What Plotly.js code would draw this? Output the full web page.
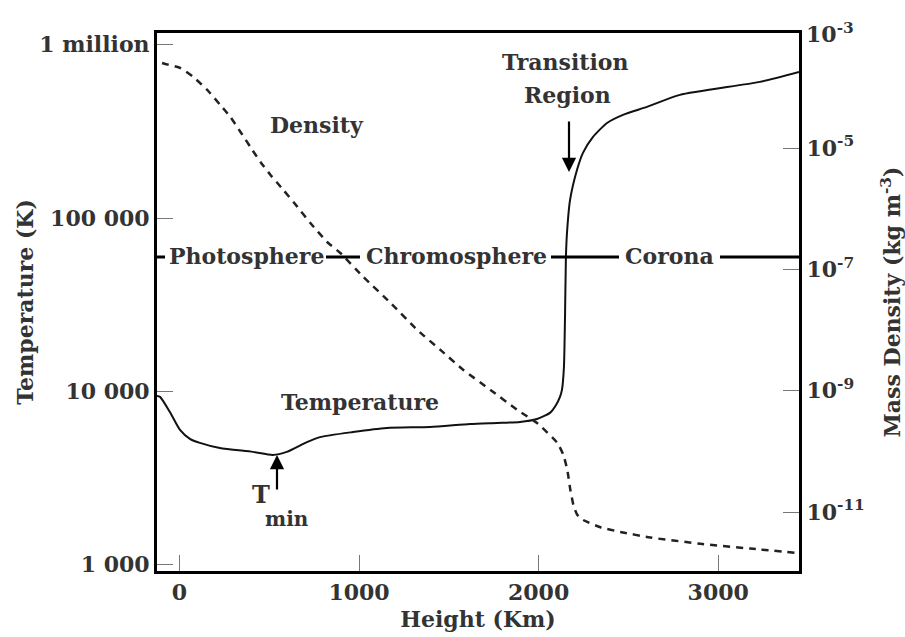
<!DOCTYPE html>
<html>
<head>
<meta charset="utf-8">
<script src="https://cdn.plot.ly/plotly-3.0.1.min.js"></script>
<style>html,body{margin:0;padding:0;background:#fff;}#chart{width:905px;height:637px;}</style>
</head>
<body>
<div id="chart"></div>
<script>
// Temperature profile (height km, temperature K)
const heightT = [-125,-108,-53,3,58,114,225,409,520,598,710,782,966,1155,1395,1618,1768,1896,1991,2063,2097,2119,2130,2141,2147,2152,2158,2175,2214,2247,2303,2381,2470,2603,2787,3232,3450];
const tempK = [9400,9300,7600,6000,5330,5050,4720,4480,4300,4480,5100,5450,5830,6150,6240,6490,6580,6670,6940,7520,8360,9300,10200,13800,26900,58900,82000,127000,190000,238000,294000,354000,394000,438000,514000,611000,697000];

// Mass density profile (height km, kg m^-3)
const heightD = [-97,-78,6,78,156,228,284,340,395,451,507,579,657,729,824,896,1024,1175,1325,1453,1581,1732,1882,1993,2105,2138,2160,2177,2194,2216,2249,2344,2455,2622,2901,3179,3446];
const densityKgM3 = [2.52e-4,2.43e-4,2.08e-4,1.48e-4,9.0e-5,5.1e-5,3.24e-5,1.84e-5,1.04e-5,5.9e-6,3.6e-6,2.03e-6,1.07e-6,5.8e-7,2.8e-7,1.86e-7,7.5e-8,2.8e-8,1.0e-8,4.7e-9,2.2e-9,1.03e-9,4.8e-10,2.9e-10,1.37e-10,8.7e-11,4.9e-11,2.3e-11,1.3e-11,8.9e-12,7.4e-12,5.6e-12,4.7e-12,3.8e-12,3.0e-12,2.5e-12,2.1e-12];

// Tick labels
const heightTicks = [0,1000,2000,3000];
const tempTickVals = [1e3,1e4,1e5,1e6];
const tempTickText = ['1 000','10 000','100 000','1 million'];
const densTickVals = [1e-11,1e-9,1e-7,1e-5];
const densTickText = ['10<sup>-11</sup>','10<sup>-9</sup>','10<sup>-7</sup>','10<sup>-5</sup>'];
const densTopLabel = '10<sup>-3</sup>';

// Region labels
const regionLabels = ['Photosphere','Chromosphere','Corona'];

const FONT = {family:'DejaVu Serif, serif', size:22, color:'#333', weight:'bold'};
const SUBFONT = {family:'DejaVu Serif, serif', size:20, color:'#333', weight:'bold'};
const BIGFONT = {family:'DejaVu Serif, serif', size:24, color:'#333', weight:'bold'};

const traces = [
  {x: heightT, y: tempK, type:'scatter', mode:'lines', yaxis:'y',
   line:{color:'#111', width:2, shape:'spline', smoothing:0.6}, hoverinfo:'skip', showlegend:false},
  {x: heightD, y: densityKgM3, type:'scatter', mode:'lines', yaxis:'y2',
   line:{color:'#222', width:2.5, dash:'7px,6px', shape:'spline', smoothing:0.5}, hoverinfo:'skip', showlegend:false}
];

// helper: pixel -> paper
const L=157, T=33, W=642, H=538;
const px = v => (v - L)/W;
const py = v => (T + H - v)/H;

function label(xp, yp, text, font) {
  return {xref:'paper', yref:'paper', x:px(xp), y:py(yp), xanchor:'center', yanchor:'middle',
          text:text, showarrow:false, font:font || FONT};
}

const layout = {
  width:905, height:637,
  margin:{l:157, r:106, t:33, b:66, pad:0},
  paper_bgcolor:'#fff', plot_bgcolor:'#fff',
  showlegend:false,
  font: FONT,
  xaxis:{
    range:[-125,3450], tickvals:heightTicks, ticktext:heightTicks.map(String),
    ticks:'inside', ticklen:16, tickcolor:'#777', tickwidth:1,
    showline:true, linecolor:'#000', linewidth:3, mirror:true,
    showgrid:false, zeroline:false, tickfont:FONT,
    title:{text:'Height (Km)', font:FONT, standoff:8}
  },
  yaxis:{
    type:'log', range:[2.964,6.068], tickvals:tempTickVals, ticktext:tempTickText,
    ticks:'inside', ticklen:16, tickcolor:'#777', tickwidth:1,
    showline:true, linecolor:'#000', linewidth:3,
    showgrid:false, zeroline:false, tickfont:FONT,
    title:{text:'Temperature (K)', font:FONT, standoff:0}
  },
  yaxis2:{
    type:'log', range:[-11.972,-3.104], overlaying:'y', side:'right',
    tickvals:densTickVals, ticktext:densTickText,
    ticks:'inside', ticklen:16, tickcolor:'#777', tickwidth:1,
    showline:true, linecolor:'#000', linewidth:3,
    showgrid:false, zeroline:false, tickfont:FONT,
    title:{text:'Mass Density (kg m<sup>-3</sup>)', font:FONT, standoff:24}
  },
  shapes:[
    {type:'line', xref:'paper', yref:'paper', x0:px(157), x1:px(165), y0:py(257), y1:py(257), line:{color:'#000', width:3}},
    {type:'line', xref:'paper', yref:'paper', x0:px(326), x1:px(360), y0:py(257), y1:py(257), line:{color:'#000', width:3}},
    {type:'line', xref:'paper', yref:'paper', x0:px(551), x1:px(619), y0:py(257), y1:py(257), line:{color:'#000', width:3}},
    {type:'line', xref:'paper', yref:'paper', x0:px(720), x1:px(799), y0:py(257), y1:py(257), line:{color:'#000', width:3}}
  ],
  annotations:[
    label(246, 256, regionLabels[0]),
    label(456, 256, regionLabels[1]),
    label(669, 256, regionLabels[2]),
    label(317, 125, 'Density'),
    label(360, 402, 'Temperature'),
    label(565, 62, 'Transition'),
    label(567, 95, 'Region'),
    label(261, 494, 'T', BIGFONT),
    label(287, 519, 'min', SUBFONT),
    {xref:'paper', yref:'paper', x:1, y:py(33), xanchor:'left', yanchor:'middle', xshift:5, text:densTopLabel, showarrow:false, font:FONT},
    {xref:'paper', yref:'paper', x:px(569), y:py(172), ax:0, ay:-52, text:'', showarrow:true,
     arrowhead:2, arrowsize:1.3, arrowwidth:2.2, arrowcolor:'#000'},
    {xref:'paper', yref:'paper', x:px(277), y:py(455), ax:0, ay:36, text:'', showarrow:true,
     arrowhead:2, arrowsize:1.3, arrowwidth:2.2, arrowcolor:'#000'}
  ]
};

Plotly.newPlot('chart', traces, layout, {staticPlot:true, displayModeBar:false});
</script>
</body>
</html>
